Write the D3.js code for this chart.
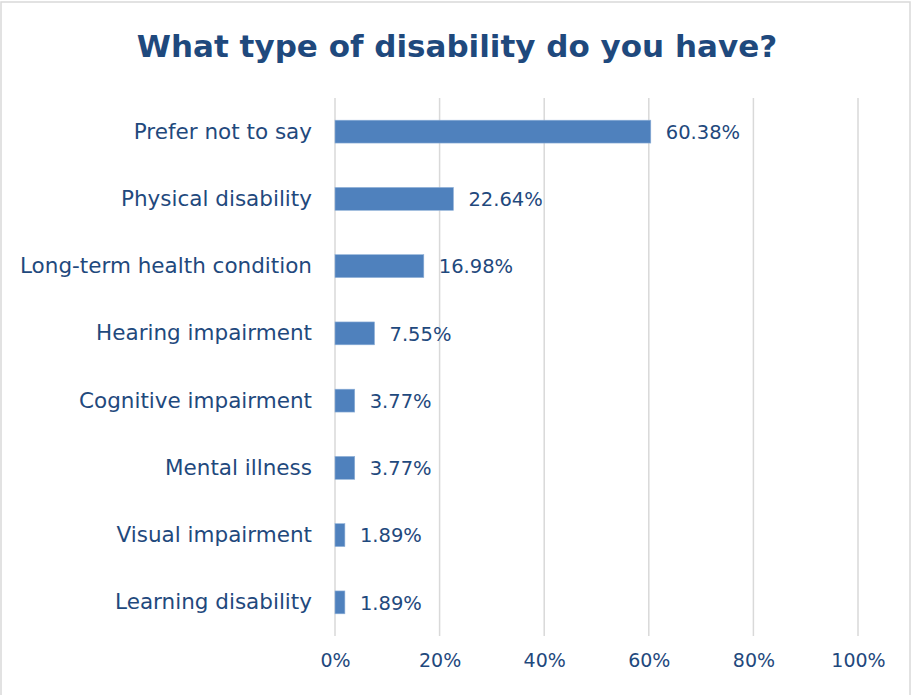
<!DOCTYPE html>
<html>
<head>
<meta charset="utf-8">
<script src="https://cdn.jsdelivr.net/npm/d3@7"></script>
<style>
  html, body { margin: 0; padding: 0; background: #fff; }
  svg { display: block; }
</style>
</head>
<body>
<svg id="chart" width="914" height="695"></svg>
<script>
const categories = [
  "Prefer not to say",
  "Physical disability",
  "Long-term health condition",
  "Hearing impairment",
  "Cognitive impairment",
  "Mental illness",
  "Visual impairment",
  "Learning disability"
];
const values = [60.38, 22.64, 16.98, 7.55, 3.77, 3.77, 1.89, 1.89];
const tickValues = [0, 20, 40, 60, 80, 100];
const titleText = "What type of disability do you have?";

const W = 914, H = 695;
const margin = { top: 98, right: 56, bottom: 59, left: 335 };
const textColor = "#1f497d";
const barColor = "#4f81bd";
const font = "'DejaVu Sans', sans-serif";

const svg = d3.select("#chart");

// chart frame
svg.append("rect")
  .attr("x", 1).attr("y", 2).attr("width", W - 5).attr("height", H + 10)
  .attr("fill", "#fff").attr("stroke", "#d9d9d9").attr("stroke-width", 1.5);

const x = d3.scaleLinear().domain([0, 100]).range([margin.left, W - margin.right]);
const y = d3.scaleBand().domain(categories)
  .range([margin.top, H - margin.bottom]).paddingInner(0.66).paddingOuter(0.33);

// vertical gridlines
svg.append("g").selectAll("line").data(tickValues).join("line")
  .attr("x1", d => x(d)).attr("x2", d => x(d))
  .attr("y1", margin.top).attr("y2", H - margin.bottom)
  .attr("stroke", "#d9d9d9").attr("stroke-width", 1.5);

// x axis tick labels
const xAxis = d3.axisBottom(x).tickValues(tickValues).tickSize(0).tickPadding(0)
  .tickFormat(d => d + "%");
const gx = svg.append("g").attr("transform", `translate(0,${H - margin.bottom + 14})`).call(xAxis);
gx.select(".domain").remove();
gx.selectAll("text").attr("fill", textColor).attr("font-family", font)
  .attr("font-size", 19).attr("dy", "0.9em");

// y axis category labels
const yAxis = d3.axisLeft(y).tickSize(0).tickPadding(23);
const gy = svg.append("g").attr("transform", `translate(${margin.left},0)`).call(yAxis);
gy.select(".domain").remove();
gy.selectAll("text").attr("fill", textColor).attr("font-family", font).attr("font-size", 21.5);

// bars
svg.append("g").selectAll("rect").data(values).join("rect")
  .attr("x", x(0))
  .attr("y", (d, i) => y(categories[i]))
  .attr("width", d => x(d) - x(0))
  .attr("height", y.bandwidth())
  .attr("fill", barColor)
  .attr("stroke", "#8fb0d8").attr("stroke-width", 0.6);

// value labels
svg.append("g").selectAll("text").data(values).join("text")
  .attr("x", d => x(d) + 15)
  .attr("y", (d, i) => y(categories[i]) + y.bandwidth() / 2)
  .attr("dy", "0.37em")
  .attr("fill", textColor).attr("font-family", font).attr("font-size", 19.5)
  .text(d => d.toFixed(2) + "%");

// title
svg.append("text")
  .attr("x", 457).attr("y", 57).attr("text-anchor", "middle")
  .attr("fill", textColor).attr("font-family", font).attr("font-weight", "bold")
  .attr("font-size", 31)
  .text(titleText);
</script>
</body>
</html>
